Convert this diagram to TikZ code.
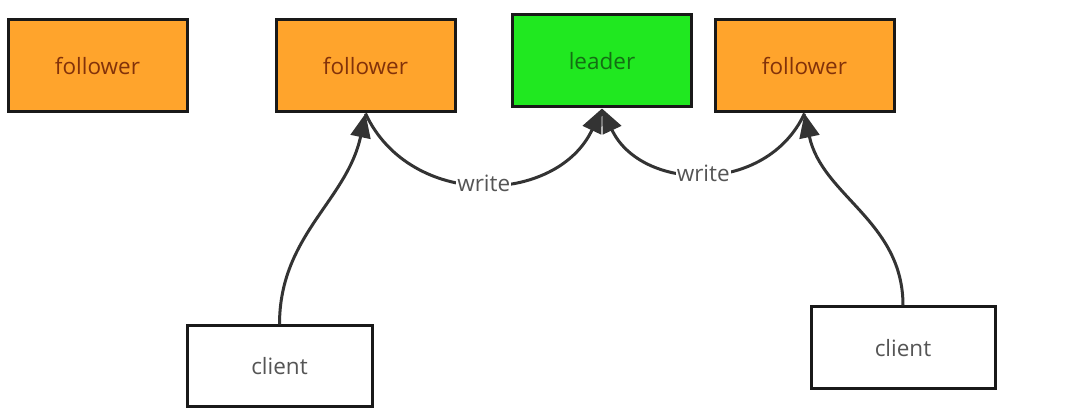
\documentclass[tikz,border=0pt]{standalone}
\usepackage{fontspec}
\setmainfont{Open Sans}
\usetikzlibrary{arrows.meta, positioning}
\definecolor{followerorange}{RGB}{255,164,44}
\definecolor{leadergreen}{RGB}{32,232,32}
\definecolor{textbrown}{RGB}{130,50,10}
\definecolor{textgreen}{RGB}{20,110,20}
\definecolor{textgray}{RGB}{85,85,85}

\begin{document}
\begin{tikzpicture}[x=1pt, y=1pt,
    box/.style={rectangle, draw=black!90, line width=3pt, minimum width=179pt, minimum height=92pt, font=\fontsize{22.5}{26}\selectfont},
    follower/.style={box, fill=followerorange, text=textbrown},
    leader/.style={box, fill=leadergreen, text=textgreen},
    client/.style={box, fill=white, text=textgray, minimum width=185pt, minimum height=81pt},
    lbl/.style={fill=white, inner sep=1pt, text=textgray, font=\fontsize{22.5}{26}\selectfont},
    arrow/.style={-{Triangle[length=24pt, width=20pt]}, line width=3pt, draw=black!80}]

    \useasboundingbox (0,0) rectangle (1066,420);

    \node[follower] (f1) at (97.5,354) {follower};
    \node[follower] (f2) at (365.5,354) {follower};
    \node[leader] (ld) at (602,359) {leader};
    \node[follower] (f3) at (804.5,354) {follower};
    \node[client] (c1) at (279.5,53.5) {client};
    \node[client, minimum width=184pt, minimum height=82pt] (c2) at (903,72) {client};

    \draw[arrow] (c1.north) to[out=90, in=-102] (f2.south);
    \draw[arrow] (c2.north) to[out=90, in=-78] (f3.south);
    \draw[arrow] (f2.south) to[out=-65, in=-115, looseness=1.15] node[lbl] (w1) {write} (ld.south);
    \draw[arrow] (f3.south) to[out=-115, in=-65, looseness=1.15] node[lbl] (w2) {write} (ld.south);
\end{tikzpicture}
\end{document}
